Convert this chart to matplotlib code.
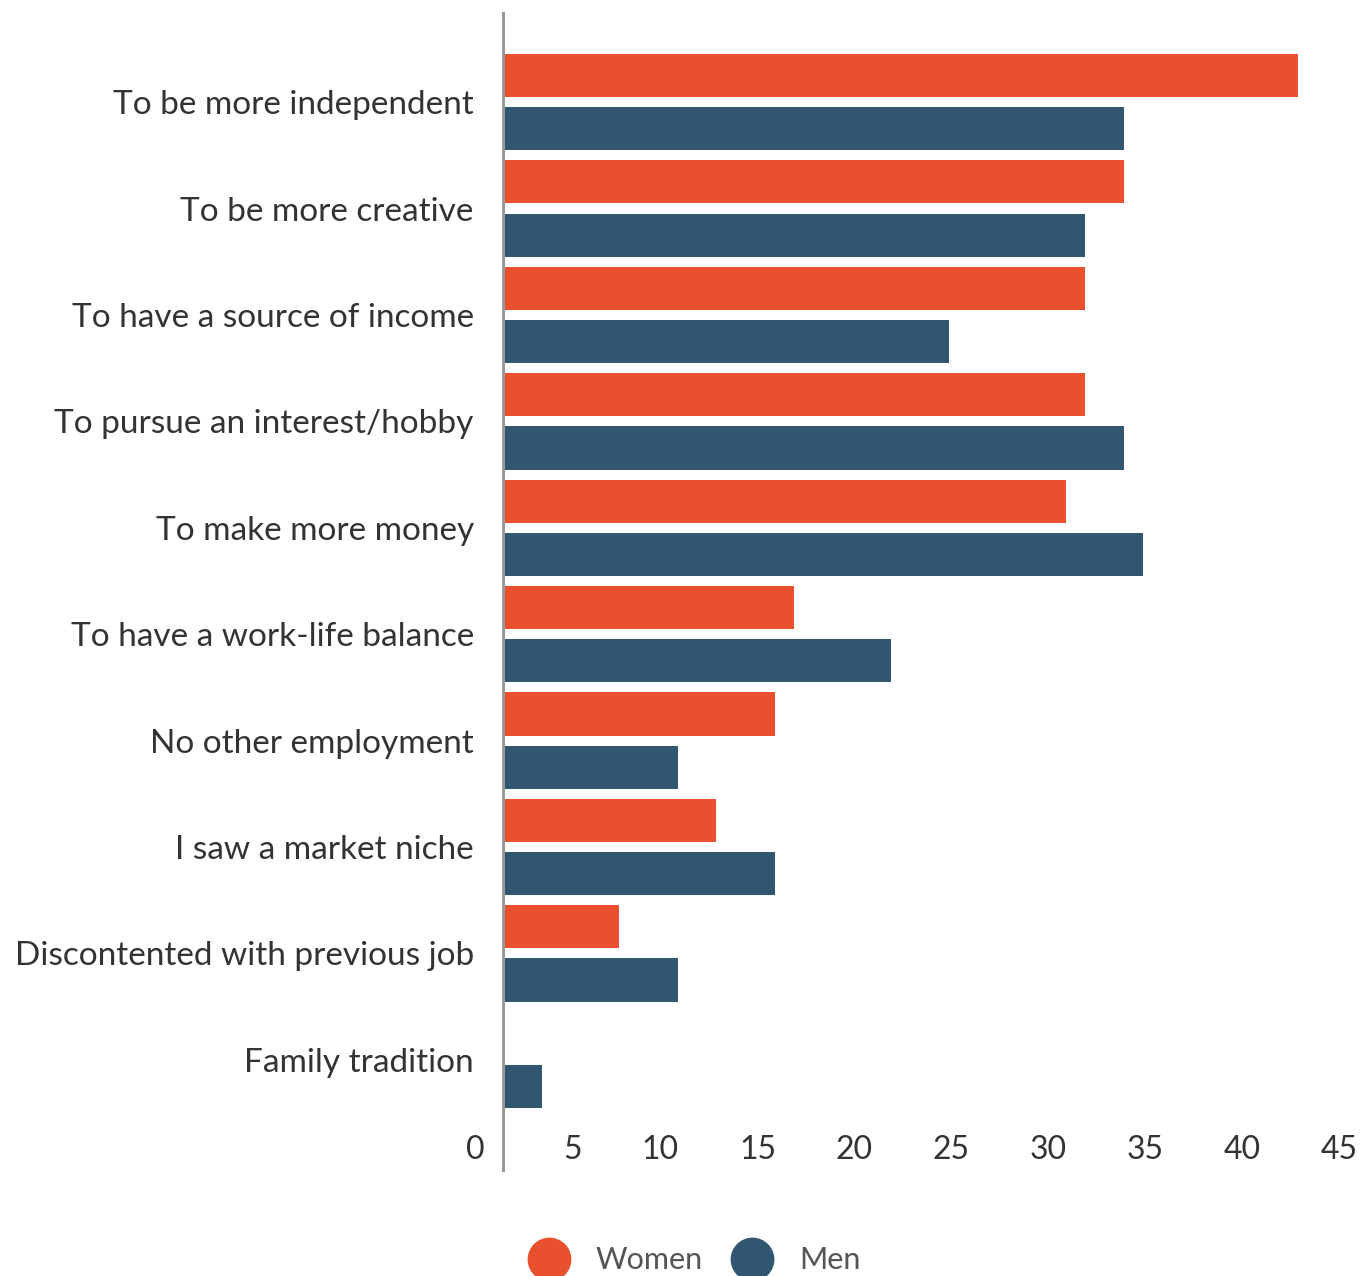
import matplotlib
matplotlib.use('Agg')
import matplotlib.pyplot as plt
from matplotlib.lines import Line2D
from matplotlib.transforms import ScaledTranslation
import numpy as np

# data
reasons = ['To be more independent', 'To be more creative', 'To have a source of income',
           'To pursue an interest/hobby', 'To make more money', 'To have a work-life balance',
           'No other employment', 'I saw a market niche', 'Discontented with previous job',
           'Family tradition']
women = [41, 32, 30, 30, 29, 15, 14, 11, 6, 0]
men = [32, 30, 23, 32, 33, 20, 9, 14, 9, 2]
series_names = ['Women', 'Men']
colors = ['#E8502E', '#31566F']
x_ticks = [0, 5, 10, 15, 20, 25, 30, 35, 40, 45]

plt.rcParams['font.family'] = ['Lato', 'DejaVu Sans']

W, H = 1362, 1276
fig = plt.figure(figsize=(W / 100, H / 100), dpi=100)

# axis: x=0 at px 503, 45 at px 1376; y spans px 13..1170
ax = fig.add_axes([503 / W, 1 - 1170 / H, 873 / W, 1157 / H])

n = len(reasons)
y_women = np.arange(n) * 2
y_men = y_women + 1
bar_h = 0.81
ax.barh(y_women, women, height=bar_h, color=colors[0])
ax.barh(y_men, men, height=bar_h, color=colors[1])

ax.set_xlim(0, 45)
ax.set_ylim(20.57, -1.175)

for s in ['top', 'right', 'bottom']:
    ax.spines[s].set_visible(False)
ax.spines['left'].set_color('#999999')
ax.spines['left'].set_linewidth(2.2)

ax.set_yticks(y_women + 0.5)
ax.set_yticklabels(reasons, fontsize=24, color='#333333')
ax.tick_params(axis='y', length=0, pad=21)

# x tick labels sit inside the plot, right-aligned left of each tick
ax.set_xticks([])
offset = ScaledTranslation(-18 / 100, 0, fig.dpi_scale_trans)
for v in x_ticks:
    ax.text(v, 20 / 1157, str(v), transform=ax.get_xaxis_transform() + offset,
            ha='right', va='center', fontsize=23, color='#333333', clip_on=False)

# legend at the bottom
legend_x = [549, 752]
for name, c, lx in zip(series_names, colors, legend_x):
    fig.add_artist(Line2D([lx / W], [1 - 1259 / H], marker='o', markersize=30.5,
                          color=c, linestyle='none', transform=fig.transFigure))
    fig.text((lx + 47) / W, 1 - 1260 / H, name, fontsize=22, color='#555555',
             ha='left', va='center')

fig.savefig('out.png', dpi=100)
